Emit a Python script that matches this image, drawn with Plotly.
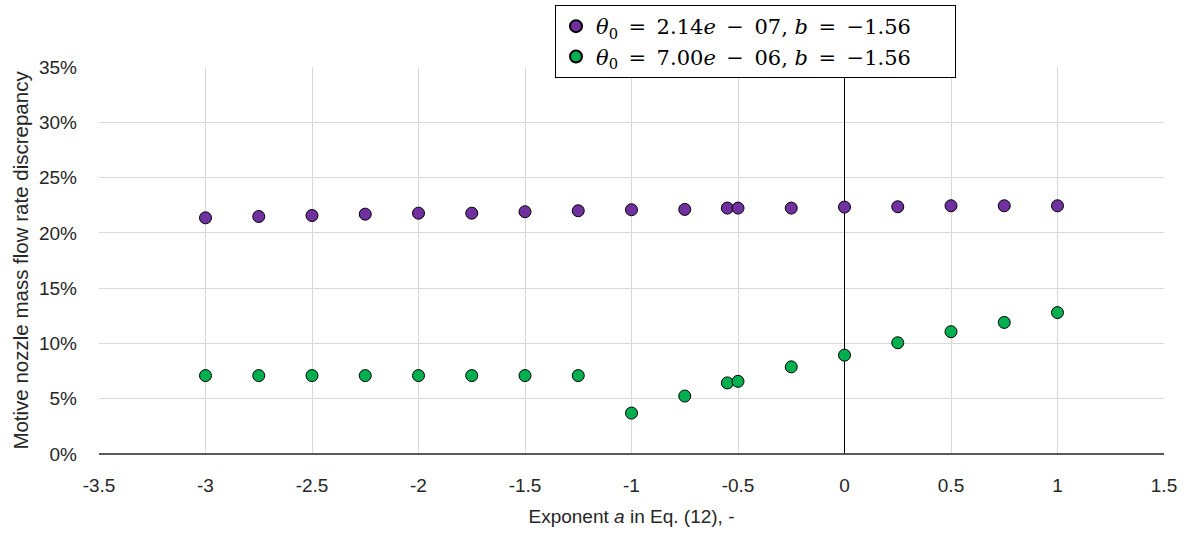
import plotly.graph_objects as go

# Exponent a values
a_vals = [-3, -2.75, -2.5, -2.25, -2, -1.75, -1.5, -1.25, -1, -0.75, -0.55, -0.5, -0.25, 0, 0.25, 0.5, 0.75, 1]

# Discrepancy (%) for theta0 = 2.14e-07
disc_purple = [21.36, 21.48, 21.57, 21.69, 21.78, 21.78, 21.91, 22.0, 22.09, 22.12, 22.24, 22.24, 22.24, 22.33, 22.36, 22.45, 22.45, 22.45]
# Discrepancy (%) for theta0 = 7.00e-06
disc_green = [7.09, 7.09, 7.09, 7.09, 7.09, 7.09, 7.09, 7.09, 3.7, 5.24, 6.43, 6.57, 7.88, 8.94, 10.06, 11.06, 11.9, 12.79]

pad = "<span style='color:white'>.</span>"
name_purple = "<i>θ</i><sub>0</sub>\u2002=\u20022.14<i>e</i>\u2002−\u200207, <i>b</i>\u2002=\u2002−1.56\u2003\u2002" + pad
name_green = "<i>θ</i><sub>0</sub>\u2002=\u20027.00<i>e</i>\u2002−\u200206, <i>b</i>\u2002=\u2002−1.56\u2003\u2002" + pad

x_ticks = [-3.5, -3, -2.5, -2, -1.5, -1, -0.5, 0, 0.5, 1, 1.5]
x_labels = ["-3.5", "-3", "-2.5", "-2", "-1.5", "-1", "-0.5", "0", "0.5", "1", "1.5"]
y_ticks = [0, 5, 10, 15, 20, 25, 30, 35]
y_labels = ["0%", "5%", "10%", "15%", "20%", "25%", "30%", "35%"]

fig = go.Figure()
fig.add_trace(go.Scatter(
    x=a_vals, y=disc_purple, mode="markers", name=name_purple,
    marker=dict(size=12, color="#7030A0", line=dict(color="black", width=1)),
))
fig.add_trace(go.Scatter(
    x=a_vals, y=disc_green, mode="markers", name=name_green,
    marker=dict(size=12, color="#00B050", line=dict(color="black", width=1)),
))

fig.update_layout(
    width=1189, height=535,
    margin=dict(l=99, r=25, t=67, b=81, autoexpand=False),
    paper_bgcolor="white", plot_bgcolor="white",
    font=dict(family="Liberation Sans, Arial, sans-serif", size=19, color="#262626"),
    legend=dict(
        x=(555 - 99) / 1065, y=(454 - 5) / 387, xanchor="left", yanchor="top",
        bordercolor="black", borderwidth=1, bgcolor="white",
        font=dict(family="DejaVu Serif, serif", size=21, color="black"),
        tracegroupgap=0, itemsizing="constant",
    ),
    showlegend=True,
)
fig.update_xaxes(
    range=[-3.5, 1.5], tickvals=x_ticks, ticktext=x_labels,
    showgrid=True, gridcolor="#D9D9D9", gridwidth=1,
    zeroline=True, zerolinecolor="black", zerolinewidth=1,
    showline=False, ticks="", ticklabelstandoff=18,
    title=dict(text="Exponent <i>a</i> in Eq. (12), -", standoff=14, font=dict(size=19)),
)
fig.update_yaxes(
    range=[0, 35], tickvals=y_ticks, ticktext=y_labels,
    showgrid=True, gridcolor="#D9D9D9", gridwidth=1,
    zeroline=True, zerolinecolor="#595959", zerolinewidth=1.5,
    showline=False, ticks="", ticklabelstandoff=21,
    title=dict(text="Motive nozzle mass flow rate discrepancy", standoff=4, font=dict(size=20.5)),
)

fig.write_html("out.html")
